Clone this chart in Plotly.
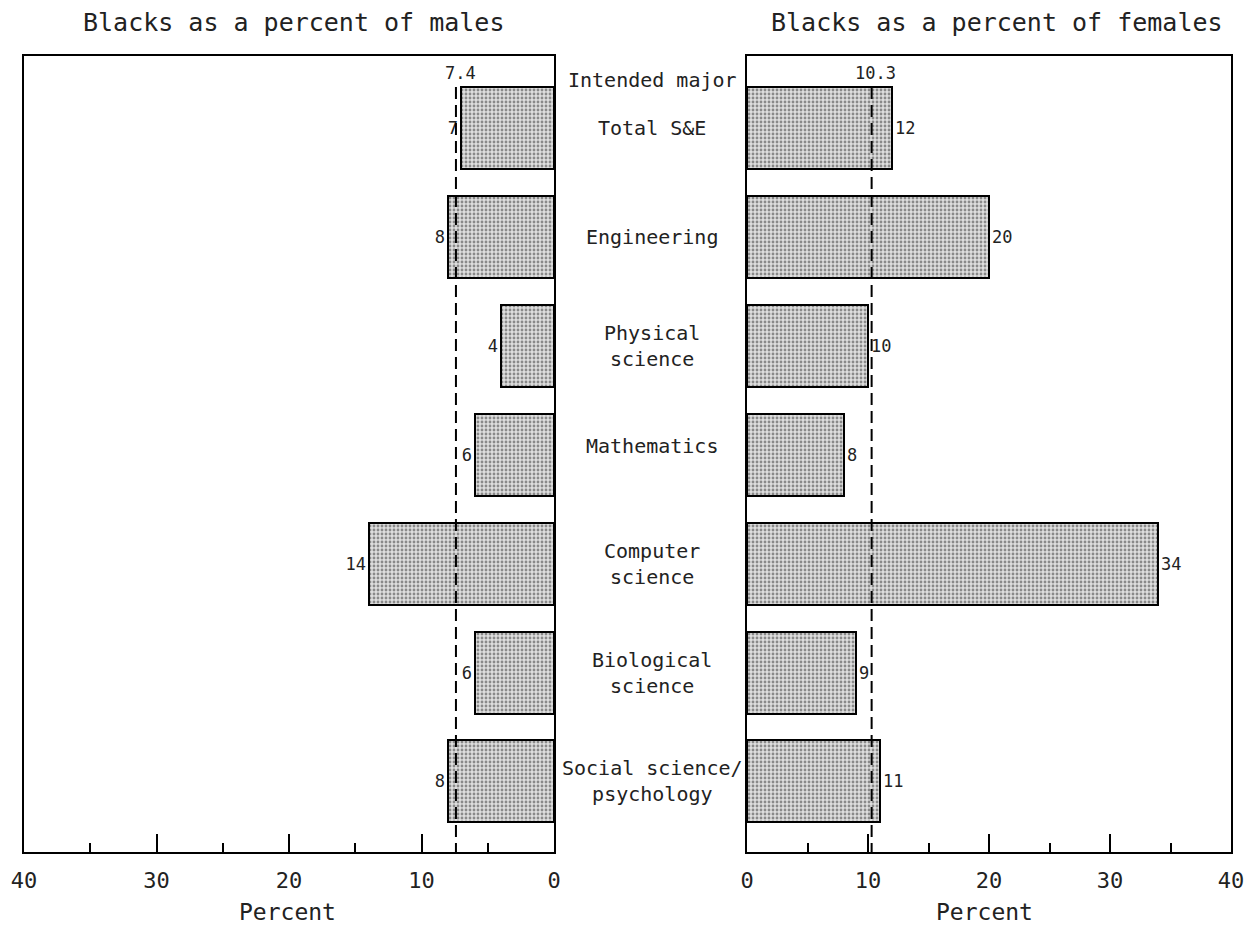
import plotly.graph_objects as go

# ---- data ----
categories = ["Total S&E", "Engineering", "Physical<br>science", "Mathematics",
              "Computer<br>science", "Biological<br>science", "Social science/<br>psychology"]
males_pct = [7, 8, 4, 6, 14, 6, 8]
females_pct = [12, 20, 10, 8, 34, 9, 11]
males_avg = 7.4
females_avg = 10.3
tick_vals = [0, 10, 20, 30, 40]
minor_vals = [5, 15, 25, 35]

# page is offset by the 8px body margin
OFF = 8
W, H = 1256 - OFF, 929 - OFF
FONT = "DejaVu Sans Mono"

def px(x):
    return (x - OFF) / W

def py(y):
    return 1 - (y - OFF) / H

pos = list(range(len(categories)))
y_range = [6.648, -0.661]
bar_w = 0.753

fig = go.Figure()

pattern = dict(shape=".", size=4, solidity=0.4, fgcolor="#333333", bgcolor="#dedede")

fig.add_trace(go.Bar(
    x=males_pct, y=pos, orientation="h", width=bar_w,
    marker=dict(color="#dedede", line=dict(color="black", width=2), pattern=pattern),
    text=[str(v) for v in males_pct], textposition="outside",
    textfont=dict(family=FONT, size=17, color="#222"),
    cliponaxis=False, xaxis="x", yaxis="y", showlegend=False, hoverinfo="skip"))

fig.add_trace(go.Bar(
    x=females_pct, y=pos, orientation="h", width=bar_w,
    marker=dict(color="#dedede", line=dict(color="black", width=2), pattern=pattern),
    text=[str(v) for v in females_pct], textposition="outside",
    textfont=dict(family=FONT, size=17, color="#222"),
    cliponaxis=False, xaxis="x2", yaxis="y2", showlegend=False, hoverinfo="skip"))

axis_common = dict(
    showgrid=False, zeroline=False, showline=True, mirror=True, automargin=False,
    linecolor="black", linewidth=2,
    ticks="inside", ticklen=18, tickwidth=2, tickcolor="black",
    tickvals=tick_vals,
    minor=dict(tickvals=minor_vals, ticks="inside", ticklen=9, tickwidth=2, tickcolor="black"),
    tickfont=dict(family=FONT, size=22, color="#222"),
    ticklabelstandoff=8,
)
yaxis_common = dict(
    range=y_range, showticklabels=False, ticks="", showgrid=False, zeroline=False,
    automargin=False,
    showline=True, mirror=True, linecolor="black", linewidth=2,
)

fig.update_layout(
    width=W, height=H,
    margin=dict(l=0, r=0, t=0, b=0, pad=0),
    paper_bgcolor="white", plot_bgcolor="white",
    bargap=0,
    xaxis=dict(domain=[px(24), px(554)], range=[40, 0], anchor="y", **axis_common),
    yaxis=dict(domain=[py(852), py(56)], anchor="x", **yaxis_common),
    xaxis2=dict(domain=[px(747), px(1231)], range=[0, 40], anchor="y2", **axis_common),
    yaxis2=dict(domain=[py(852), py(56)], anchor="x2", **yaxis_common),
    font=dict(family=FONT, color="#222"),
)

# average dashed lines
for avg, xr, yr in [(males_avg, "x", "y"), (females_avg, "x2", "y2")]:
    fig.add_shape(type="line", xref=xr, yref=yr, x0=avg, x1=avg,
                  y0=-bar_w / 2, y1=y_range[0],
                  line=dict(color="black", width=2, dash="12px,6px"))

def ann(x, y, text, size, xref="paper", yref="paper", **kw):
    d = dict(xref=xref, yref=yref, x=x, y=y, text=text, showarrow=False,
             xanchor="center", yanchor="middle",
             font=dict(family=FONT, size=size, color="#222"))
    d.update(kw)
    return d

annotations = [
    ann(males_avg, py(73), f"{males_avg}", 17, xref="x", xshift=5),
    ann(females_avg, py(73), f"{females_avg}", 17, xref="x2", xshift=4),
    ann(px(293), py(22), "Blacks as a percent of males", 25),
    ann(px(997), py(22), "Blacks as a percent of females", 25),
    ann(px(287), py(912), "Percent", 23),
    ann(px(984), py(912), "Percent", 23),
    ann(px(652), py(80), "Intended major", 20),
]
label_shift = {"Mathematics": 9}
for c, p in zip(categories, pos):
    annotations.append(ann(px(652), p, c, 20, yref="y", yshift=label_shift.get(c, 0)))

fig.update_layout(annotations=annotations)

fig.write_html("out.html")
